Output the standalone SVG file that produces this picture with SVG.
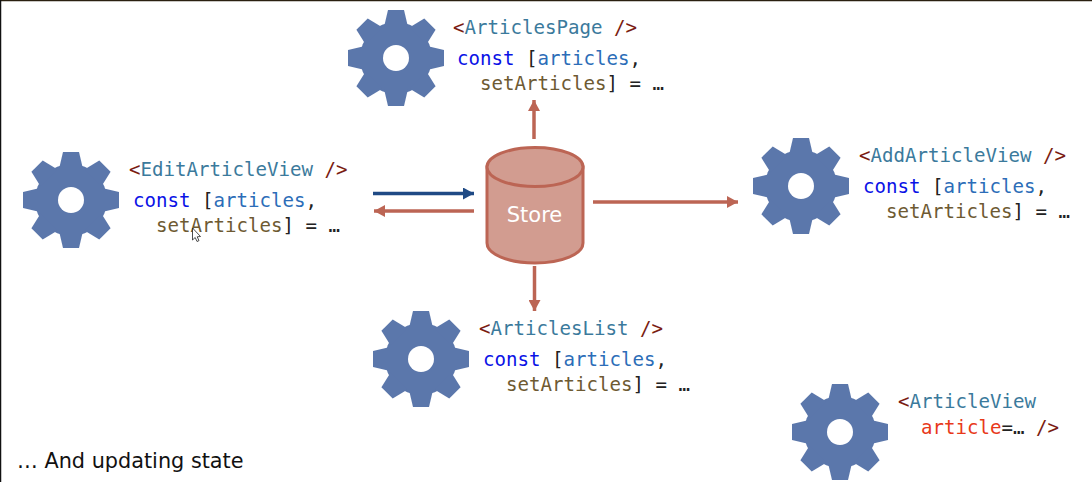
<svg xmlns="http://www.w3.org/2000/svg" width="1092" height="482" viewBox="0 0 1092 482">
<style>
text{white-space:pre}
.c{font-family:"DejaVu Sans Mono","Liberation Mono",monospace;font-size:19.1px;fill:#222}
.b{fill:#7a1c12}.t{fill:#3b7a9c}.k{fill:#0a12e6}.v{fill:#2c6db8}.s{fill:#6e5a32}.a{fill:#e8391a}
.u{font-family:"DejaVu Sans",Verdana,sans-serif}
.rl{stroke:#bc6554;stroke-width:3.500;fill:none}
.bl{stroke:#1f4a85;stroke-width:3.500;fill:none}
</style>
<defs>
<marker id="ar" markerUnits="userSpaceOnUse" markerWidth="12" markerHeight="12" refX="11" refY="6" orient="auto"><path d="M0,0L11,6L0,12z" fill="#bc6554"/></marker>
<marker id="ab" markerUnits="userSpaceOnUse" markerWidth="12" markerHeight="12" refX="11" refY="6" orient="auto"><path d="M0,0L11,6L0,12z" fill="#1f4a85"/></marker>
<polygon id="th" points="-12,-31 -8,-48 8,-48 12,-31" fill="#5b77ab"/>
<g id="gear">
<circle r="36" fill="#5b77ab"/>
<use href="#th"/><use href="#th" transform="rotate(45)"/><use href="#th" transform="rotate(90)"/><use href="#th" transform="rotate(135)"/><use href="#th" transform="rotate(180)"/><use href="#th" transform="rotate(225)"/><use href="#th" transform="rotate(270)"/><use href="#th" transform="rotate(315)"/>
<circle r="13" fill="#fff"/>
</g>
</defs>
<rect width="1092" height="482" fill="#fff"/>
<path d="M0,0.5H1092" stroke="#2a2010" stroke-width="1.5"/>
<path d="M0.5,0V482" stroke="#111" stroke-width="1.5"/>
<g id="connectors">
<path class="rl" d="M534,139V100" marker-end="url(#ar)"/>
<path class="rl" d="M534.500,266V311" marker-end="url(#ar)"/>
<path class="bl" d="M373,193.500H474" marker-end="url(#ab)"/>
<path class="rl" d="M474,211H374" marker-end="url(#ar)"/>
<path class="rl" d="M593,202H738" marker-end="url(#ar)"/>
</g>
<g id="store">
<path d="M487,167V243C487,254 508,263 535,263C562,263 583,254 583,243V167z" fill="#d29c90" stroke="#bc6554" stroke-width="3"/>
<ellipse cx="535" cy="167" rx="48" ry="19.500" fill="#d29c90" stroke="#bc6554" stroke-width="3"/>
<text class="u" x="534.500" y="222" font-size="21" fill="#fff" text-anchor="middle">Store</text>
</g>
<g id="articles-page">
<use href="#gear" x="396" y="58"/>
<text class="c" x="453" y="34"><tspan class="b">&lt;</tspan><tspan class="t">ArticlesPage</tspan> <tspan class="b">/&gt;</tspan></text>
<text class="c" x="457" y="65"><tspan class="k">const</tspan> [<tspan class="v">articles</tspan>,</text>
<text class="c" x="480" y="90"><tspan class="s">setArticles</tspan>] = …</text>
</g>
<g id="edit-article-view">
<use href="#gear" x="71" y="200"/>
<text class="c" x="129" y="176"><tspan class="b">&lt;</tspan><tspan class="t">EditArticleView</tspan> <tspan class="b">/&gt;</tspan></text>
<text class="c" x="133" y="207"><tspan class="k">const</tspan> [<tspan class="v">articles</tspan>,</text>
<text class="c" x="156" y="232"><tspan class="s">setArticles</tspan>] = …</text>
</g>
<g id="add-article-view">
<use href="#gear" x="801" y="186"/>
<text class="c" x="859" y="162"><tspan class="b">&lt;</tspan><tspan class="t">AddArticleView</tspan> <tspan class="b">/&gt;</tspan></text>
<text class="c" x="863" y="193"><tspan class="k">const</tspan> [<tspan class="v">articles</tspan>,</text>
<text class="c" x="886" y="218"><tspan class="s">setArticles</tspan>] = …</text>
</g>
<g id="articles-list">
<use href="#gear" x="421" y="359"/>
<text class="c" x="479" y="335"><tspan class="b">&lt;</tspan><tspan class="t">ArticlesList</tspan> <tspan class="b">/&gt;</tspan></text>
<text class="c" x="483" y="366"><tspan class="k">const</tspan> [<tspan class="v">articles</tspan>,</text>
<text class="c" x="506" y="391"><tspan class="s">setArticles</tspan>] = …</text>
</g>
<g id="article-view">
<use href="#gear" x="840" y="432"/>
<text class="c" x="898" y="408"><tspan class="b">&lt;</tspan><tspan class="t">ArticleView</tspan></text>
<text class="c" x="921" y="434"><tspan class="a">article</tspan>=… <tspan class="b">/&gt;</tspan></text>
</g>
<text class="u" x="17" y="468" font-size="20.800" fill="#111">… And updating state</text>
<path d="M192.500,228V240L195.200,237.500L197,241.500L199,240.600L197.200,236.800L200.500,236.500z" fill="#fff" stroke="#222" stroke-width="0.800"/>
</svg>
